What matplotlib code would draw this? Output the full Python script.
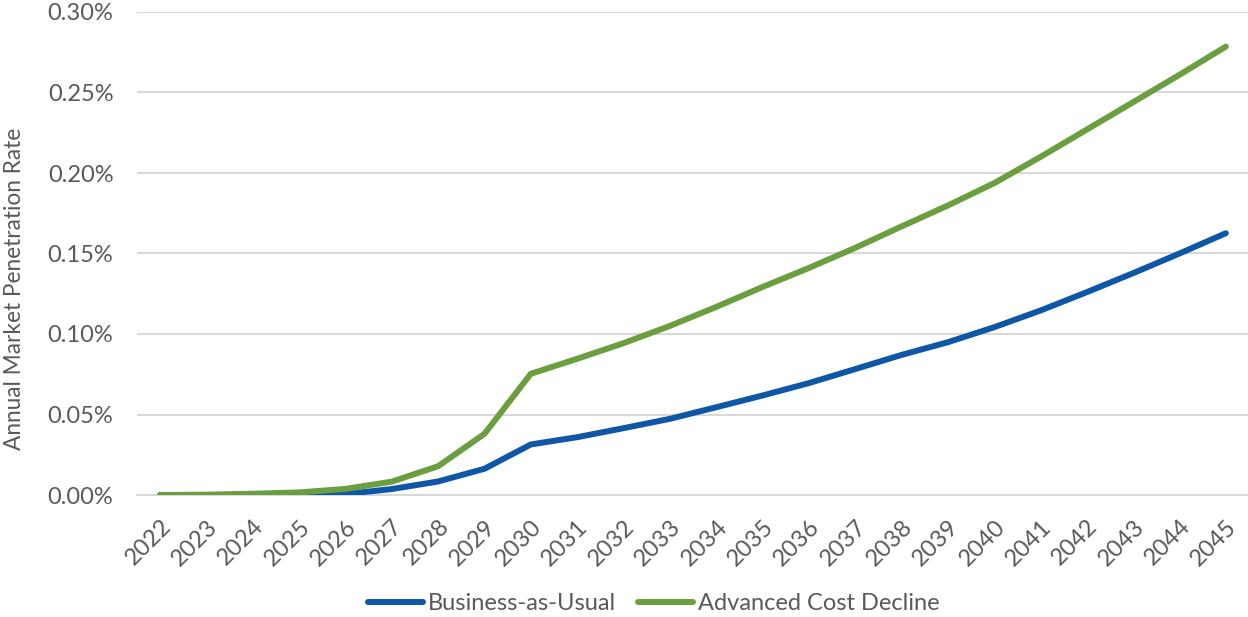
import matplotlib
matplotlib.use("Agg")
import matplotlib.pyplot as plt
from matplotlib.ticker import FuncFormatter, MultipleLocator

# Annual market penetration rate (percent) by year
years = list(range(2022, 2046))
business_as_usual = [0.0000, 0.0000, 0.0001, 0.0002, 0.0006, 0.0037, 0.0084, 0.0163,
                     0.0314, 0.0359, 0.0415, 0.0473, 0.0545, 0.0618, 0.0695, 0.0782,
                     0.0870, 0.0949, 0.1042, 0.1146, 0.1260, 0.1378, 0.1500, 0.1626]
advanced_cost_decline = [0.0000, 0.0002, 0.0008, 0.0016, 0.0038, 0.0083, 0.0179, 0.0380,
                         0.0753, 0.0846, 0.0943, 0.1050, 0.1168, 0.1292, 0.1410, 0.1535,
                         0.1668, 0.1798, 0.1937, 0.2100, 0.2270, 0.2440, 0.2610, 0.2785]
series_names = ["Business-as-Usual", "Advanced Cost Decline"]

BLUE = "#0D57A6"
GREEN = "#6B9E3E"
TEXT = "#595959"
GRID = "#D9D9D9"
FS = 17

plt.rcParams["font.family"] = ["Lato", "DejaVu Sans"]

W, H = 1248, 617
fig = plt.figure(figsize=(W / 100, H / 100), dpi=100)
ax = fig.add_axes([137 / W, 1 - 495 / H, (1249 - 137) / W, (495 - 12) / H])

x = list(range(len(years)))
ax.plot(x, business_as_usual, color=BLUE, lw=4.3, solid_capstyle="round",
        solid_joinstyle="round", label=series_names[0], zorder=3)
ax.plot(x, advanced_cost_decline, color=GREEN, lw=4.3, solid_capstyle="round",
        solid_joinstyle="round", label=series_names[1], zorder=3)

ax.set_xlim(-0.5, len(years) - 0.5)
ax.set_ylim(0, 0.30)
ax.yaxis.set_major_locator(MultipleLocator(0.05))
ax.yaxis.set_major_formatter(FuncFormatter(lambda v, p: f"{v:.2f}%"))
ax.set_xticks(x)
ax.set_xticklabels([str(y) for y in years], rotation=45, ha="right",
                   rotation_mode="anchor")

ax.grid(axis="y", color=GRID, lw=1.5, zorder=0)
ax.set_axisbelow(True)
for side in ["top", "right", "left"]:
    ax.spines[side].set_visible(False)
ax.spines["bottom"].set_color(GRID)
ax.spines["bottom"].set_linewidth(1.5)

ax.tick_params(axis="both", length=0, colors=TEXT, labelsize=FS)
ax.tick_params(axis="y", pad=17)
ax.tick_params(axis="x", pad=15)

fig.text(15 / W, 1 - 289 / H, "Annual Market Penetration Rate", rotation=90,
         ha="center", va="center", color=TEXT, fontsize=16.3)

leg = fig.legend(loc="center", bbox_to_anchor=(654 / W, 1 - 604 / H), ncol=2,
                 frameon=False, fontsize=FS, handlelength=2.33,
                 handletextpad=0.2, columnspacing=0.93)
for t in leg.get_texts():
    t.set_color(TEXT)

fig.savefig("out.png", dpi=100)
